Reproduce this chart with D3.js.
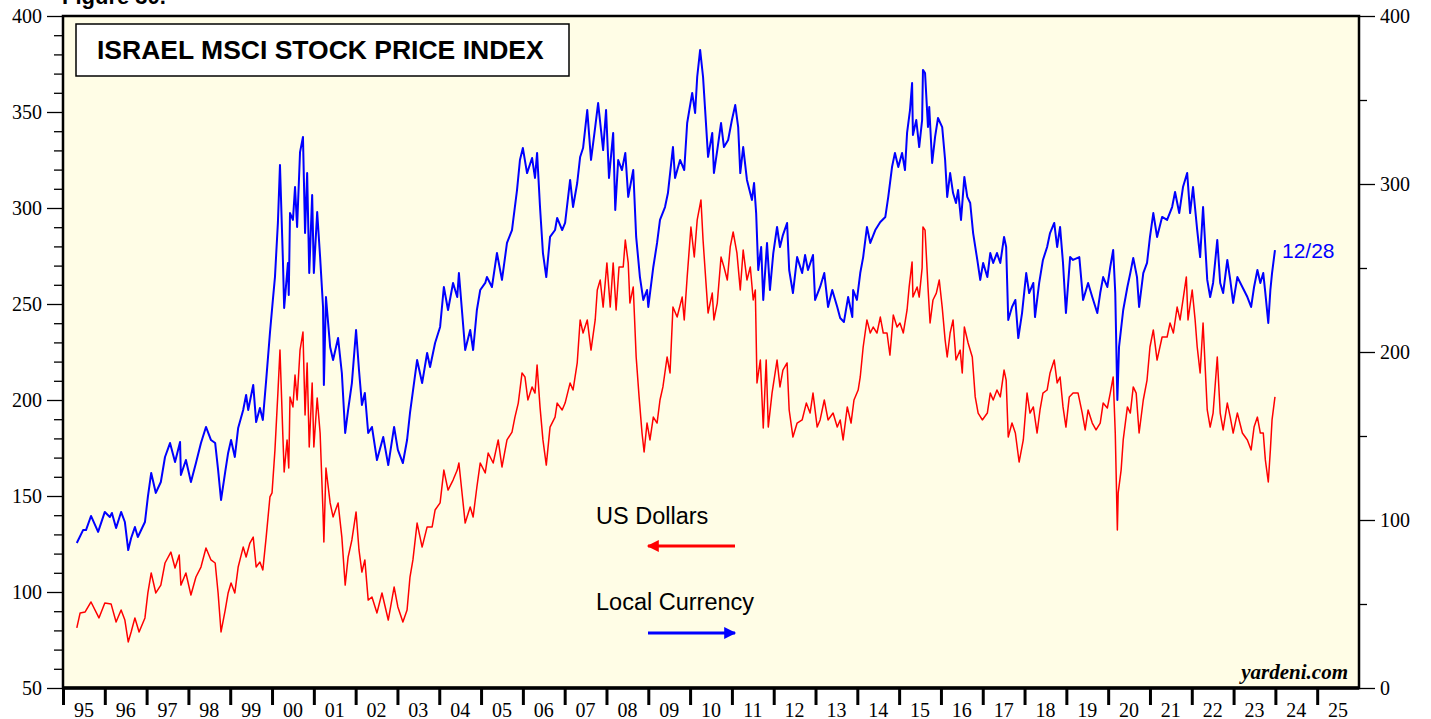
<!DOCTYPE html>
<html>
<head>
<meta charset="utf-8">
<script src="https://cdn.jsdelivr.net/npm/d3@7"></script>
<style>
    body { margin: 0; background: #fff; }
    svg { display: block; }
</style>
</head>
<body>
<svg id="IsraelMsciSVG" width="1431" height="719"></svg>
<script>
/*
 Description: Israel MSCI stock price index, US dollars vs local currency.
 */

// year labels under the x axis
var yearLabels = ["95", "96", "97", "98", "99", "00", "01", "02", "03", "04", "05", "06", "07", "08", "09",
    "10", "11", "12", "13", "14", "15", "16", "17", "18", "19", "20", "21", "22", "23", "24", "25"];

var leftTicks = [50, 100, 150, 200, 250, 300, 350, 400];
var rightTicks = [0, 100, 200, 300, 400];

// Local currency (right scale) : [decimal year, index]
var localCurrency = [
    [1995.33,86.3],[1995.48,94.0],[1995.55,94.0],[1995.67,102.4],[1995.84,92.9],[1996.00,104.8],[1996.12,101.8],[1996.17,104.2],[1996.27,95.2],[1996.39,104.8],
    [1996.48,98.8],[1996.56,82.1],[1996.63,89.3],[1996.72,95.8],[1996.79,89.9],[1996.96,98.8],[1997.03,113.7],[1997.11,128.0],[1997.22,116.1],[1997.34,122.6],
    [1997.44,137.5],[1997.56,145.8],[1997.68,134.5],[1997.80,146.4],[1997.82,126.8],[1997.94,135.7],[1998.06,122.6],[1998.18,133.9],[1998.30,145.8],[1998.42,155.4],
    [1998.54,147.6],[1998.64,145.8],[1998.71,129.8],[1998.78,111.9],[1998.88,128.6],[1998.95,139.9],[1999.02,147.6],[1999.11,137.5],[1999.19,154.8],[1999.31,165.5],
    [1999.38,174.4],[1999.43,165.5],[1999.55,180.4],[1999.62,158.3],[1999.71,166.7],[1999.78,159.5],[1999.86,183.3],[1999.95,211.3],[2000.02,231.0],[2000.07,244.6],
    [2000.14,276.8],[2000.19,311.3],[2000.26,254.8],[2000.29,226.2],[2000.38,253.0],[2000.40,233.9],[2000.43,282.7],[2000.50,278.6],[2000.55,298.2],[2000.60,274.4],
    [2000.67,319.0],[2000.74,328.0],[2000.79,270.8],[2000.84,306.5],[2000.89,247.0],[2000.96,293.5],[2001.00,247.0],[2001.08,283.3],[2001.15,256.5],[2001.22,226.8],
    [2001.24,180.4],[2001.29,232.7],[2001.39,203.0],[2001.46,195.2],[2001.58,208.3],[2001.67,187.5],[2001.75,151.8],[2001.82,165.5],[2001.91,181.5],[2002.01,213.1],
    [2002.08,189.3],[2002.15,168.5],[2002.22,175.6],[2002.30,151.8],[2002.39,155.4],[2002.51,135.7],[2002.66,149.4],[2002.78,132.7],[2002.92,155.4],[2003.01,141.7],
    [2003.13,133.9],[2003.23,147.6],[2003.30,163.7],[2003.47,195.2],[2003.59,181.5],[2003.71,199.4],[2003.78,191.1],[2003.90,205.4],[2004.02,214.9],[2004.11,238.7],
    [2004.21,225.0],[2004.33,241.1],[2004.43,232.7],[2004.47,247.0],[2004.62,201.2],[2004.74,213.1],[2004.81,201.2],[2004.90,225.0],[2004.98,236.9],[2005.10,241.1],
    [2005.14,244.6],[2005.26,238.7],[2005.38,258.9],[2005.50,242.9],[2005.62,264.9],[2005.74,272.6],[2005.77,278.6],[2005.86,296.4],[2005.93,314.3],[2006.00,321.4],
    [2006.10,306.5],[2006.22,315.5],[2006.29,303.6],[2006.34,318.5],[2006.41,286.3],[2006.48,258.9],[2006.56,244.6],[2006.65,268.5],[2006.77,272.6],[2006.82,279.8],
    [2006.94,272.6],[2007.01,276.8],[2007.13,302.4],[2007.20,286.3],[2007.30,300.6],[2007.37,316.1],[2007.44,321.4],[2007.54,344.0],[2007.63,314.3],[2007.73,333.9],
    [2007.80,348.2],[2007.92,320.2],[2007.99,344.0],[2008.06,303.6],[2008.16,330.4],[2008.21,284.5],[2008.28,314.3],[2008.37,308.3],[2008.45,318.5],[2008.52,292.3],
    [2008.64,308.3],[2008.71,268.5],[2008.80,244.6],[2008.88,231.0],[2008.97,236.9],[2009.00,226.8],[2009.12,250.6],[2009.21,264.9],[2009.28,278.6],[2009.40,286.3],
    [2009.47,294.6],[2009.59,322.0],[2009.64,303.6],[2009.76,314.3],[2009.86,308.3],[2009.93,336.3],[2010.05,354.2],[2010.12,342.3],[2010.17,363.7],[2010.24,379.8],
    [2010.31,363.7],[2010.36,344.0],[2010.43,316.1],[2010.53,330.4],[2010.57,306.5],[2010.65,320.2],[2010.74,336.3],[2010.81,322.0],[2010.91,326.2],[2011.00,338.1],
    [2011.08,347.0],[2011.15,333.9],[2011.20,306.5],[2011.27,322.0],[2011.36,302.4],[2011.48,290.5],[2011.53,300.6],[2011.58,282.7],[2011.63,248.8],[2011.70,262.5],
    [2011.75,231.0],[2011.84,264.9],[2011.91,236.9],[2011.99,258.9],[2012.08,274.4],[2012.15,262.5],[2012.22,269.6],[2012.32,276.8],[2012.37,248.8],[2012.46,235.1],
    [2012.56,256.5],[2012.68,247.0],[2012.75,257.7],[2012.82,248.8],[2012.94,257.7],[2012.99,231.0],[2013.11,238.7],[2013.21,247.0],[2013.30,226.8],[2013.40,236.9],
    [2013.52,226.8],[2013.59,220.2],[2013.68,217.9],[2013.78,232.7],[2013.88,220.8],[2013.90,236.9],[2013.99,231.0],[2014.07,247.0],[2014.14,256.5],[2014.23,274.4],
    [2014.31,264.9],[2014.43,272.6],[2014.55,277.4],[2014.67,280.4],[2014.74,292.3],[2014.83,310.1],[2014.90,318.5],[2014.98,310.1],[2015.07,318.5],[2015.14,308.3],
    [2015.19,330.4],[2015.26,344.0],[2015.31,360.1],[2015.33,329.2],[2015.41,338.1],[2015.48,322.0],[2015.55,338.1],[2015.57,367.9],[2015.62,366.1],[2015.69,333.9],
    [2015.72,345.8],[2015.79,312.5],[2015.86,328.0],[2015.93,339.3],[2016.03,333.9],[2016.10,314.3],[2016.15,292.3],[2016.22,306.5],[2016.29,294.6],[2016.36,288.7],
    [2016.41,296.4],[2016.48,278.6],[2016.56,304.2],[2016.63,292.3],[2016.70,288.7],[2016.77,270.8],[2016.87,254.8],[2016.94,242.9],[2017.01,253.0],[2017.11,244.6],
    [2017.18,258.9],[2017.25,253.0],[2017.34,258.9],[2017.42,253.0],[2017.51,268.5],[2017.56,262.5],[2017.61,219.0],[2017.70,226.8],[2017.78,231.0],[2017.85,208.3],
    [2017.94,223.2],[2018.04,247.0],[2018.11,235.1],[2018.21,241.1],[2018.25,220.8],[2018.35,241.1],[2018.44,254.8],[2018.54,262.5],[2018.61,270.8],[2018.71,276.8],
    [2018.78,262.5],[2018.85,274.4],[2018.92,253.0],[2018.99,223.2],[2019.09,256.5],[2019.16,254.8],[2019.31,256.5],[2019.40,231.0],[2019.52,241.1],[2019.62,232.7],
    [2019.74,223.2],[2019.81,235.1],[2019.88,244.6],[2019.98,238.7],[2020.05,250.6],[2020.12,260.7],[2020.17,235.1],[2020.22,171.4],[2020.26,203.0],[2020.36,225.0],
    [2020.46,238.7],[2020.53,247.0],[2020.60,256.0],[2020.69,244.6],[2020.74,226.8],[2020.84,247.0],[2020.93,253.0],[2021.00,268.5],[2021.08,282.7],[2021.17,268.5],
    [2021.29,280.4],[2021.41,278.6],[2021.53,286.3],[2021.60,295.2],[2021.70,282.7],[2021.79,298.2],[2021.89,306.5],[2021.96,282.7],[2022.03,298.2],[2022.13,272.6],
    [2022.20,256.5],[2022.27,286.3],[2022.37,242.9],[2022.44,232.7],[2022.51,241.1],[2022.61,266.7],[2022.68,241.1],[2022.75,235.1],[2022.85,254.8],[2022.92,242.9],
    [2022.99,229.2],[2023.09,244.6],[2023.21,238.7],[2023.33,232.7],[2023.42,226.8],[2023.49,238.7],[2023.57,248.8],[2023.64,241.1],[2023.71,247.0],[2023.76,235.1],
    [2023.83,217.3],[2023.88,236.9],[2023.92,247.0],[2023.99,260.7]
];

// US dollars (left scale) : [decimal year, index]
var usDollars = [
    [1995.33,81.3],[1995.41,89.1],[1995.53,89.6],[1995.67,94.8],[1995.86,86.5],[1996.00,94.3],[1996.15,93.8],[1996.27,84.4],[1996.39,90.6],[1996.48,85.4],
    [1996.56,74.0],[1996.63,79.2],[1996.72,86.5],[1996.82,79.2],[1996.96,86.5],[1997.03,99.5],[1997.11,109.9],[1997.22,99.5],[1997.34,103.6],[1997.44,115.1],
    [1997.58,120.8],[1997.68,112.5],[1997.78,119.3],[1997.82,103.6],[1997.94,109.9],[1998.06,98.4],[1998.18,107.8],[1998.30,113.0],[1998.42,122.9],[1998.54,116.7],
    [1998.64,115.1],[1998.71,99.5],[1998.78,79.2],[1998.88,90.6],[1998.95,99.5],[1999.02,104.7],[1999.11,99.5],[1999.19,113.0],[1999.31,123.4],[1999.38,118.2],
    [1999.47,125.5],[1999.55,128.6],[1999.62,113.0],[1999.71,115.6],[1999.78,111.5],[1999.86,128.6],[1999.95,149.5],[2000.00,151.6],[2000.07,174.0],[2000.14,203.6],
    [2000.19,226.0],[2000.26,180.7],[2000.29,162.5],[2000.36,179.2],[2000.40,164.6],[2000.43,201.6],[2000.50,196.4],[2000.55,213.0],[2000.60,200.0],[2000.67,226.0],
    [2000.74,235.4],[2000.79,192.2],[2000.84,219.3],[2000.89,175.5],[2000.96,208.9],[2001.00,175.5],[2001.08,201.0],[2001.15,182.8],[2001.22,141.1],[2001.24,126.0],
    [2001.29,164.6],[2001.39,146.4],[2001.46,139.1],[2001.58,146.4],[2001.67,128.6],[2001.75,103.6],[2001.82,118.2],[2001.91,127.1],[2002.01,141.7],[2002.08,121.9],
    [2002.15,110.4],[2002.22,116.7],[2002.30,95.8],[2002.39,97.4],[2002.51,89.1],[2002.63,99.5],[2002.78,85.4],[2002.92,102.6],[2003.01,92.2],[2003.13,84.4],
    [2003.23,90.6],[2003.30,107.8],[2003.37,116.7],[2003.47,135.9],[2003.59,123.4],[2003.71,133.9],[2003.83,133.9],[2003.90,142.7],[2004.02,146.4],[2004.11,163.5],
    [2004.21,153.1],[2004.33,158.3],[2004.43,163.5],[2004.47,167.2],[2004.62,135.9],[2004.74,144.3],[2004.81,139.1],[2004.90,154.7],[2004.98,167.2],[2005.10,162.0],
    [2005.17,172.4],[2005.29,167.2],[2005.41,179.2],[2005.50,165.1],[2005.62,179.2],[2005.74,183.3],[2005.81,191.1],[2005.89,198.4],[2005.98,214.1],[2006.05,212.0],
    [2006.12,200.0],[2006.22,206.8],[2006.29,203.6],[2006.34,218.2],[2006.41,196.4],[2006.48,179.2],[2006.56,166.1],[2006.65,185.9],[2006.77,191.1],[2006.82,198.4],
    [2006.94,194.8],[2007.01,198.4],[2007.13,208.9],[2007.20,205.2],[2007.30,219.3],[2007.37,241.7],[2007.44,234.9],[2007.54,241.7],[2007.63,226.0],[2007.73,241.7],
    [2007.78,257.3],[2007.85,262.5],[2007.92,248.4],[2008.01,271.4],[2008.09,248.4],[2008.16,271.4],[2008.23,246.9],[2008.30,269.3],[2008.40,269.3],[2008.45,283.3],
    [2008.52,271.4],[2008.56,250.5],[2008.64,258.9],[2008.71,222.4],[2008.78,201.6],[2008.85,182.8],[2008.90,172.9],[2008.97,188.0],[2009.04,179.2],[2009.12,191.1],
    [2009.21,188.0],[2009.28,200.0],[2009.35,206.8],[2009.45,222.4],[2009.52,214.1],[2009.59,248.4],[2009.69,243.2],[2009.81,253.6],[2009.86,241.7],[2009.93,264.1],
    [2010.02,290.1],[2010.10,274.5],[2010.17,293.8],[2010.26,304.2],[2010.31,283.3],[2010.38,260.9],[2010.43,245.3],[2010.53,255.7],[2010.57,241.7],[2010.65,250.5],
    [2010.74,274.5],[2010.81,269.3],[2010.89,262.5],[2010.96,279.7],[2011.03,287.5],[2011.12,276.6],[2011.20,257.3],[2011.27,278.1],[2011.36,262.5],[2011.44,269.3],
    [2011.51,252.1],[2011.56,257.3],[2011.60,208.9],[2011.68,220.8],[2011.75,185.4],[2011.82,220.8],[2011.87,185.9],[2011.96,203.6],[2012.08,220.8],[2012.15,206.8],
    [2012.22,215.6],[2012.32,219.3],[2012.37,194.8],[2012.46,180.7],[2012.56,188.0],[2012.68,189.6],[2012.78,198.4],[2012.87,193.2],[2012.94,203.6],[2013.04,185.9],
    [2013.11,189.6],[2013.21,200.0],[2013.30,189.6],[2013.42,193.2],[2013.52,185.9],[2013.59,189.6],[2013.66,179.2],[2013.76,196.4],[2013.85,188.0],[2013.92,200.0],
    [2014.02,205.2],[2014.07,212.0],[2014.14,227.6],[2014.23,241.7],[2014.31,234.9],[2014.38,238.0],[2014.47,234.9],[2014.55,243.2],[2014.62,234.9],[2014.71,234.9],
    [2014.78,223.4],[2014.86,244.3],[2014.95,238.0],[2015.02,240.1],[2015.10,234.9],[2015.19,246.9],[2015.24,258.9],[2015.31,271.9],[2015.33,253.6],[2015.43,258.9],
    [2015.48,253.6],[2015.55,268.8],[2015.57,290.1],[2015.62,288.5],[2015.69,258.9],[2015.74,240.1],[2015.81,252.1],[2015.89,255.7],[2015.96,262.5],[2016.03,248.4],
    [2016.10,231.3],[2016.15,222.4],[2016.22,234.9],[2016.29,241.7],[2016.36,220.8],[2016.46,226.0],[2016.51,214.1],[2016.56,238.0],[2016.65,229.7],[2016.75,222.4],
    [2016.82,201.6],[2016.89,193.2],[2016.99,189.6],[2017.11,193.2],[2017.18,203.6],[2017.25,200.0],[2017.34,205.2],[2017.42,201.6],[2017.51,215.6],[2017.56,210.4],
    [2017.61,180.7],[2017.70,188.0],[2017.78,182.8],[2017.87,167.7],[2017.97,179.2],[2018.06,203.6],[2018.13,193.2],[2018.21,196.4],[2018.30,182.8],[2018.37,194.8],
    [2018.44,203.6],[2018.54,205.2],[2018.61,214.1],[2018.71,220.8],[2018.78,208.9],[2018.85,212.0],[2018.92,196.4],[2018.99,185.9],[2019.07,201.6],[2019.16,203.6],
    [2019.28,203.6],[2019.38,193.2],[2019.45,184.4],[2019.52,194.8],[2019.62,188.0],[2019.71,184.4],[2019.81,188.0],[2019.88,198.4],[2019.98,195.8],[2020.05,203.6],
    [2020.12,212.0],[2020.17,182.8],[2020.22,132.3],[2020.24,151.6],[2020.31,163.5],[2020.36,179.2],[2020.46,196.4],[2020.53,193.2],[2020.60,206.8],[2020.67,203.6],
    [2020.74,182.8],[2020.84,200.0],[2020.93,210.4],[2021.00,227.6],[2021.08,236.5],[2021.17,220.8],[2021.29,232.8],[2021.41,232.8],[2021.48,240.1],[2021.56,234.9],
    [2021.65,248.4],[2021.72,241.7],[2021.79,252.1],[2021.87,264.1],[2021.91,241.7],[2022.01,257.3],[2022.08,241.7],[2022.13,227.6],[2022.20,214.1],[2022.27,240.1],
    [2022.37,194.8],[2022.44,185.9],[2022.51,193.2],[2022.61,222.4],[2022.68,193.2],[2022.75,184.4],[2022.85,198.4],[2022.92,191.1],[2022.99,182.8],[2023.09,193.2],
    [2023.21,182.8],[2023.33,179.2],[2023.42,174.0],[2023.49,185.9],[2023.57,191.1],[2023.64,182.8],[2023.71,182.8],[2023.76,168.8],[2023.83,157.3],[2023.88,174.0],
    [2023.92,189.6],[2023.99,201.6]
];

/**
 * Draws the whole chart
 * @returns {undefined}
 */
function drawIsraelMsciChart()
{
    var svg = d3.select("#IsraelMsciSVG");
    var left = 63, right = 1359, top = 16, bottom = 688;

    var x = d3.scaleLinear().domain([1995, 2026]).range([left, right]);
    var yLeft = d3.scaleLinear().domain([50, 400]).range([bottom, top]);
    var yRight = d3.scaleLinear().domain([0, 400]).range([bottom, top]);

    var serif = "'Liberation Serif', 'Times New Roman', serif";
    var sans = "'Liberation Sans', Arial, sans-serif";

    // figure caption, mostly cut by the top edge
    svg.append("text")
            .attr("x", 62)
            .attr("y", 4)
            .style("font-family", sans)
            .style("font-weight", "bold")
            .style("font-size", "22px")
            .text("Figure 30.");

    // plot background
    svg.append("rect")
            .attr("x", left)
            .attr("y", top)
            .attr("width", right - left)
            .attr("height", bottom - top)
            .style("fill", "#fffde6");

    // left axis, major + minor
    var gl = svg.append("g").attr("transform", "translate(" + left + ",0)");
    gl.call(d3.axisLeft(yLeft).tickValues(leftTicks).tickSize(16).tickPadding(5));
    gl.append("g").call(d3.axisLeft(yLeft)
            .tickValues(d3.range(60, 400, 10).filter(function(d) { return d % 50 !== 0; }))
            .tickSize(9).tickFormat(""));

    // right axis
    var gr = svg.append("g").attr("transform", "translate(" + right + ",0)");
    gr.call(d3.axisRight(yRight).tickValues(rightTicks).tickSize(16).tickPadding(5));
    gr.append("g").call(d3.axisRight(yRight).tickValues([50, 150, 250, 350]).tickSize(8).tickFormat(""));

    [gl, gr].forEach(function(g) {
        g.selectAll(".domain").remove();
        g.selectAll("line").style("stroke", "#000").style("stroke-width", "1.3px");
        g.selectAll("text")
                .style("font-family", serif)
                .style("font-size", "20px")
                .style("fill", "#000");
    });

    // bottom axis: year boundary ticks, labels in the middle of each year
    var gx = svg.append("g").attr("transform", "translate(0," + bottom + ")");
    gx.call(d3.axisBottom(x).tickValues(d3.range(1995, 2026)).tickSize(17).tickFormat(""));
    gx.selectAll(".domain").remove();
    gx.selectAll("line").style("stroke", "#000").style("stroke-width", "3px");

    gx.selectAll(".yearLabel")
            .data(yearLabels)
            .enter().append("text")
            .attr("class", "yearLabel")
            .attr("x", function(d, i) { return x(1995 + i + 0.5); })
            .attr("y", 29)
            .attr("text-anchor", "middle")
            .style("fill", "#000")
            .style("font-family", serif)
            .style("font-size", "20px")
            .text(function(d) { return d; });

    // series
    var lineLocal = d3.line()
            .x(function(d) { return x(d[0]); })
            .y(function(d) { return yRight(d[1]); });
    var lineUsd = d3.line()
            .x(function(d) { return x(d[0]); })
            .y(function(d) { return yLeft(d[1]); });

    svg.append("path")
            .datum(usDollars)
            .attr("d", lineUsd)
            .style("fill", "none")
            .style("stroke", "#ff0000")
            .style("stroke-width", "1.5px")
            .style("stroke-linejoin", "round");

    svg.append("path")
            .datum(localCurrency)
            .attr("d", lineLocal)
            .style("fill", "none")
            .style("stroke", "#0000ff")
            .style("stroke-width", "2px")
            .style("stroke-linejoin", "round");

    // frame on top of everything
    svg.append("rect")
            .attr("x", left)
            .attr("y", top)
            .attr("width", right - left)
            .attr("height", bottom - top)
            .style("fill", "none")
            .style("stroke", "#000")
            .style("stroke-width", "2.5px");
    svg.append("line")
            .attr("x1", left).attr("x2", right)
            .attr("y1", bottom).attr("y2", bottom)
            .style("stroke", "#000")
            .style("stroke-width", "3.5px");

    // title box
    svg.append("rect")
            .attr("x", 76)
            .attr("y", 24)
            .attr("width", 493)
            .attr("height", 52)
            .style("fill", "#fff")
            .style("stroke", "#000")
            .style("stroke-width", "1.5px");
    svg.append("text")
            .attr("x", 97)
            .attr("y", 59)
            .style("font-family", sans)
            .style("font-weight", "bold")
            .style("font-size", "26.5px")
            .text("ISRAEL MSCI STOCK PRICE INDEX");

    // legend with arrows
    var defs = svg.append("defs");
    [["arrowRed", "#ff0000"], ["arrowBlue", "#0000ff"]].forEach(function(m) {
        defs.append("marker")
                .attr("id", m[0])
                .attr("viewBox", "0 0 10 10")
                .attr("refX", 9)
                .attr("refY", 5)
                .attr("markerUnits", "userSpaceOnUse")
                .attr("markerWidth", 24)
                .attr("markerHeight", 12)
                .attr("orient", "auto")
                .append("path")
                .attr("d", "M0,0L10,5L0,10z")
                .style("fill", m[1]);
    });

    svg.append("text")
            .attr("x", 596)
            .attr("y", 524)
            .style("font-family", sans)
            .style("font-size", "23.5px")
            .text("US Dollars");
    svg.append("line")
            .attr("x1", 735).attr("x2", 648)
            .attr("y1", 546).attr("y2", 546)
            .attr("marker-end", "url(#arrowRed)")
            .style("stroke", "#ff0000")
            .style("stroke-width", "3px");

    svg.append("text")
            .attr("x", 596)
            .attr("y", 610)
            .style("font-family", sans)
            .style("font-size", "23.5px")
            .text("Local Currency");
    svg.append("line")
            .attr("x1", 648).attr("x2", 735)
            .attr("y1", 633).attr("y2", 633)
            .attr("marker-end", "url(#arrowBlue)")
            .style("stroke", "#0000ff")
            .style("stroke-width", "3px");

    // last date label
    var last = localCurrency[localCurrency.length - 1];
    svg.append("text")
            .attr("x", x(last[0]) + 7)
            .attr("y", yRight(last[1]) + 8)
            .style("font-family", sans)
            .style("font-size", "21px")
            .style("fill", "#0000ff")
            .text("12/28");

    // source
    svg.append("text")
            .attr("x", 1348)
            .attr("y", 679)
            .attr("text-anchor", "end")
            .style("font-family", serif)
            .style("font-weight", "bold")
            .style("font-style", "italic")
            .style("font-size", "21px")
            .text("yardeni.com");
}

drawIsraelMsciChart();
</script>
</body>
</html>
